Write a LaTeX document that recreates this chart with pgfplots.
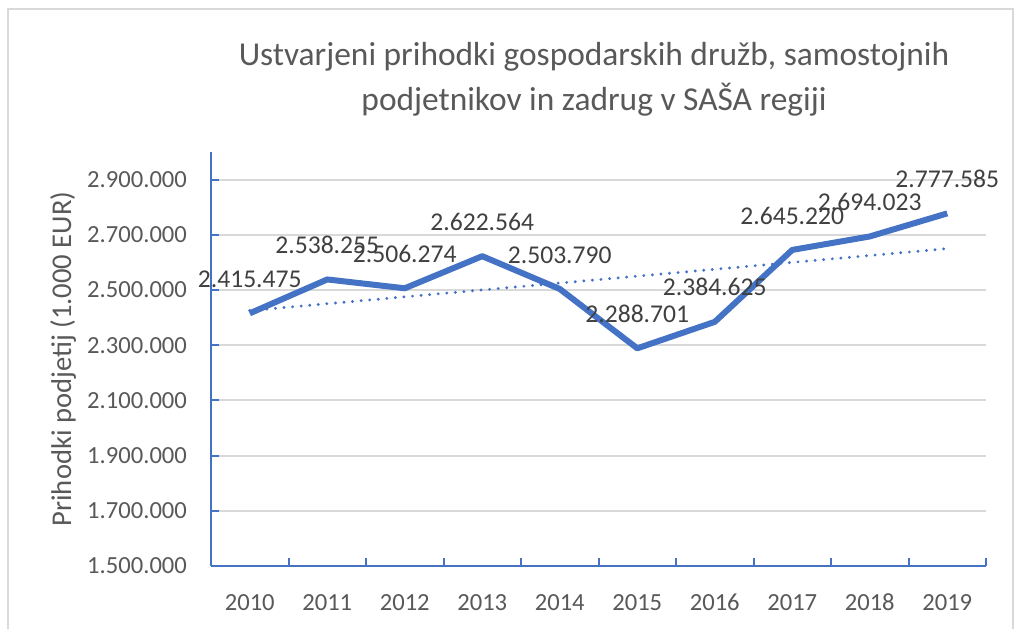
\documentclass[border=0pt]{standalone}
\usepackage{pgfplots}
\pgfplotsset{compat=1.18}
\usepackage{fontspec}
\setmainfont{Carlito}
\definecolor{xblue}{HTML}{4472C4}
\definecolor{xgrid}{HTML}{D9D9D9}
\definecolor{xtext}{HTML}{595959}
\definecolor{xlab}{HTML}{404040}
\begin{document}
\begin{tikzpicture}
\useasboundingbox (0,0) rectangle (508pt,314.5pt);
\fill[white] (0,0) rectangle (508pt,314.5pt);
\draw[xgrid, line width=1pt] (4pt,0) -- (4pt,310pt) -- (506.5pt,310pt) -- (506.5pt,0);
\node[anchor=base, text=xtext, font=\fontsize{16.7}{20}\selectfont] at (297pt,282pt) {Ustvarjeni prihodki gospodarskih družb, samostojnih};
\node[anchor=base, text=xtext, font=\fontsize{16.7}{20}\selectfont] at (297pt,259.5pt) {podjetnikov in zadrug v SAŠA regiji};
\begin{axis}[
  at={(105.5pt,31.5pt)}, anchor=south west,
  scale only axis, width=387.5pt, height=207pt,
  xmin=-0.5, xmax=9.5, ymin=1500000, ymax=3000000,
  axis x line*=bottom, axis y line*=left,
  axis line style={xblue, line width=1pt, -},
  xtick={0,...,9},
  xticklabels={2010,2011,2012,2013,2014,2015,2016,2017,2018,2019},
  major x tick style={draw=none},
  minor xtick={-0.5,0.5,...,9.5},
  minor x tick style={xblue, line width=1pt},
  minor tick length=4pt,
  ytick={1500000,1700000,...,2900000},
  major y tick style={xblue, line width=1pt},
  major tick length=4pt,
  tick align=inside,
  ymajorgrids,
  major grid style={xgrid, line width=1pt},
  scaled y ticks=false,
  /pgf/number format/fixed,
  /pgf/number format/precision=0,
  /pgf/number format/1000 sep={.},
  /pgf/number format/assume math mode=true,
  ticklabel style={text=xtext, font=\fontsize{12.3}{14}\selectfont},
  yticklabel style={xshift=-8.5pt},
  xticklabel style={yshift=-10.5pt},
  ylabel={Prihodki podjetij (1.000 EUR)},
  every axis y label/.style={at={(axis description cs:0,0.5)}, xshift=-74pt, rotate=90, anchor=center, text=xtext, font=\fontsize{14.3}{16}\selectfont},
  clip=false,
]
\addplot[xblue, line width=3pt, line join=round, mark=none,
  nodes near coords, point meta=explicit symbolic,
  every node near coord/.style={text=xlab, font=\fontsize{12.8}{14}\selectfont, anchor=south, yshift=8pt}]
  table[meta=label] {
x y label
0 2415475 2.415.475
1 2538255 2.538.255
2 2506274 2.506.274
3 2622564 2.622.564
4 2503790 2.503.790
5 2288701 2.288.701
6 2384625 2.384.625
7 2645220 2.645.220
8 2694023 2.694.023
9 2777585 2.777.585
};
\addplot[xblue, line width=1.6pt, line cap=round, dash pattern=on 0pt off 4.3pt, mark=none]
  coordinates {(0,2425417) (9,2649886)};
\end{axis}
\end{tikzpicture}
\end{document}
